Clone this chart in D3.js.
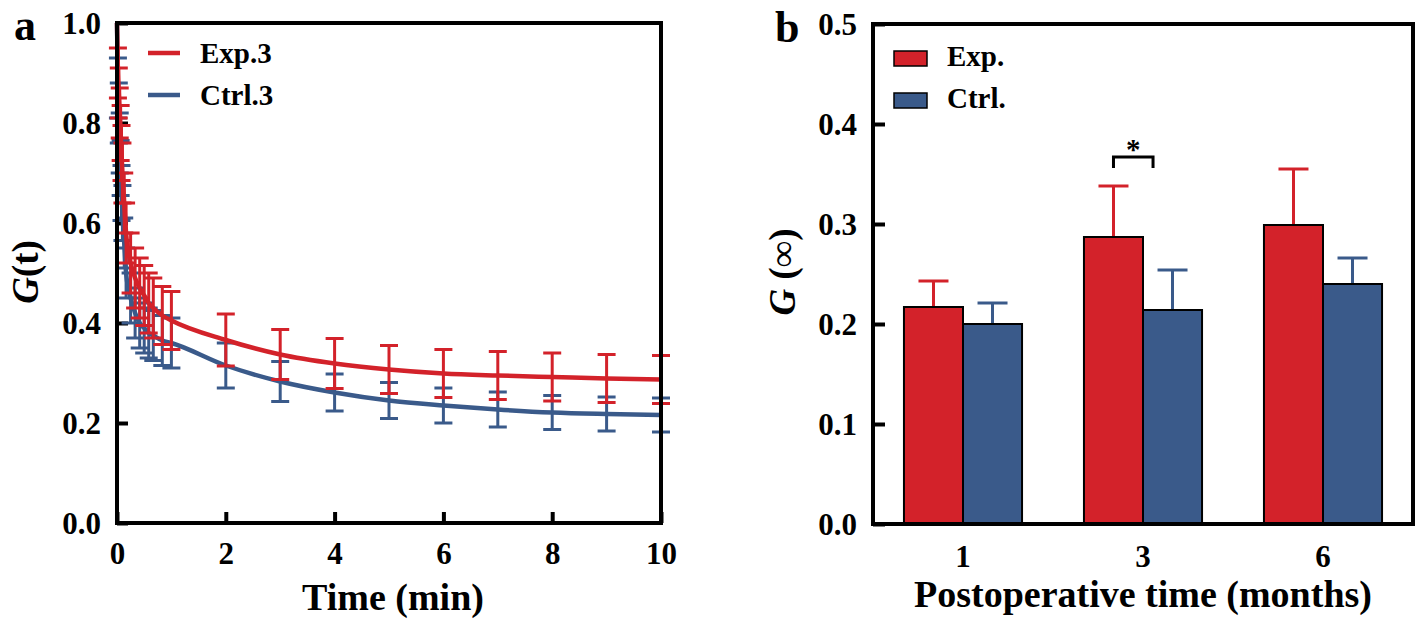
<!DOCTYPE html>
<html><head><meta charset="utf-8">
<script src="https://cdn.jsdelivr.net/npm/d3@7"></script>
<style>
html,body{margin:0;padding:0;background:#fff;}
text{font-family:"Liberation Serif","Times New Roman",serif;font-weight:bold;fill:#000;}
</style></head>
<body><svg id="c" width="1419" height="620"></svg>
<script>
// ---------- Panel a data ----------
const timeMin = [0, 0.017, 0.033, 0.05, 0.067, 0.083, 0.1, 0.133, 0.167, 0.25, 0.333, 0.417, 0.5, 0.583, 0.667, 0.833, 1, 2, 3, 4, 5, 6, 7, 8, 9, 10];
const expMean = [1.0, 0.90, 0.86, 0.82, 0.78, 0.74, 0.70, 0.64, 0.58, 0.52, 0.49, 0.47, 0.455, 0.44, 0.43, 0.415, 0.405, 0.366, 0.337, 0.319, 0.307, 0.299, 0.295, 0.292, 0.289, 0.287];
const expErr  = [0.0, 0.05, 0.05, 0.05, 0.055, 0.055, 0.06, 0.06, 0.06, 0.06, 0.06, 0.06, 0.06, 0.06, 0.06, 0.058, 0.058, 0.052, 0.050, 0.050, 0.048, 0.048, 0.048, 0.048, 0.048, 0.048];
const ctrlMean = [1.0, 0.87, 0.82, 0.76, 0.71, 0.66, 0.62, 0.56, 0.50, 0.45, 0.42, 0.40, 0.39, 0.38, 0.375, 0.365, 0.36, 0.315, 0.283, 0.261, 0.245, 0.235, 0.227, 0.221, 0.218, 0.216];
const ctrlErr  = [0.0, 0.06, 0.06, 0.06, 0.055, 0.055, 0.055, 0.05, 0.05, 0.05, 0.05, 0.05, 0.05, 0.05, 0.05, 0.05, 0.05, 0.045, 0.040, 0.037, 0.036, 0.035, 0.035, 0.034, 0.034, 0.034];
const xTicksA = [0, 2, 4, 6, 8, 10];
const yTicksA = [0.0, 0.2, 0.4, 0.6, 0.8, 1.0];
const seriesA = ["Exp.3", "Ctrl.3"];

// ---------- Panel b data ----------
const months = ["1", "3", "6"];
const seriesB = ["Exp.", "Ctrl."];
const expBar  = [0.217, 0.287, 0.299];
const expBarErr = [0.026, 0.051, 0.056];
const ctrlBar = [0.200, 0.214, 0.240];
const ctrlBarErr = [0.021, 0.040, 0.026];
const yTicksB = [0.0, 0.1, 0.2, 0.3, 0.4, 0.5];
const sigLabel = "*";

const RED = "#d3222a", BLUE = "#3a5a8a";
const svg = d3.select("#c");

// ================= Panel a =================
const A = {l:117, r:661, t:23, b:523};
const xa = d3.scaleLinear().domain([0,10]).range([A.l, A.r]);
const ya = d3.scaleLinear().domain([0,1]).range([A.b, A.t]);
const ga = svg.append("g");

const axB = ga.append("g").attr("transform",`translate(0,${A.b})`)
  .call(d3.axisBottom(xa).tickValues(xTicksA).tickSize(-11).tickPadding(19).tickFormat(d3.format("d")));
const axL = ga.append("g").attr("transform",`translate(${A.l},0)`)
  .call(d3.axisLeft(ya).tickValues(yTicksA).tickSize(-11).tickPadding(16).tickFormat(d3.format(".1f")));
[axB, axL].forEach(ax=>{
  ax.select(".domain").remove();
  ax.selectAll(".tick line").attr("stroke","#000").attr("stroke-width",4);
  ax.selectAll(".tick text").style("font-size","31px").attr("fill","#000");
});
axL.selectAll(".tick text").attr("dy","0.35em");
axB.selectAll(".tick text").attr("dy","0.71em");

function drawSeries(mean, err, color){
  const g = ga.append("g");
  const pts = timeMin.map((t,i)=>({t, m:mean[i], e:err[i]}));
  const eb = g.selectAll("g.eb").data(pts.filter(p=>p.e>0)).join("g");
  eb.append("line").attr("x1",d=>xa(d.t)).attr("x2",d=>xa(d.t))
    .attr("y1",d=>ya(d.m+d.e)).attr("y2",d=>ya(d.m-d.e))
    .attr("stroke",color).attr("stroke-width",3);
  [1,-1].forEach(s=>{
    eb.append("line").attr("x1",d=>xa(d.t)-9).attr("x2",d=>xa(d.t)+9)
      .attr("y1",d=>ya(d.m+s*d.e)).attr("y2",d=>ya(d.m+s*d.e))
      .attr("stroke",color).attr("stroke-width",3);
  });
  g.append("path").datum(pts)
    .attr("d", d3.line().x(d=>xa(d.t)).y(d=>ya(d.m)).curve(d3.curveMonotoneX))
    .attr("fill","none").attr("stroke",color).attr("stroke-width",4.5);
}
drawSeries(ctrlMean, ctrlErr, BLUE);
drawSeries(expMean, expErr, RED);

ga.append("rect").attr("x",A.l).attr("y",A.t).attr("width",A.r-A.l).attr("height",A.b-A.t)
  .attr("fill","none").attr("stroke","#000").attr("stroke-width",4);

seriesA.forEach((s,i)=>{
  const y = 53 + i*42;
  ga.append("line").attr("x1",148).attr("x2",180).attr("y1",y).attr("y2",y)
    .attr("stroke", i===0?RED:BLUE).attr("stroke-width",4.5);
  ga.append("text").attr("x",200).attr("y",y+10).style("font-size","29px").text(s);
});

ga.append("text").attr("x",393).attr("y",610).attr("text-anchor","middle")
  .style("font-size","38px").text("Time (min)");
const tyA = ga.append("text").attr("transform",`translate(38,272) rotate(-90)`)
  .attr("text-anchor","middle").style("font-size","37px");
tyA.append("tspan").style("font-style","italic").text("G");
tyA.append("tspan").text("(t)");
ga.append("text").attr("x",14).attr("y",40).style("font-size","44px").text("a");

// ================= Panel b =================
const B = {l:873, r:1413, t:24, b:524};
const x0 = d3.scaleBand().domain(months).range([B.l, B.r]).paddingInner(0.344).paddingOuter(0.172);
const x1 = d3.scaleBand().domain(seriesB).range([0, x0.bandwidth()]).padding(0);
const yb = d3.scaleLinear().domain([0,0.5]).range([B.b, B.t]);
const gb = svg.append("g");

const axLB = gb.append("g").attr("transform",`translate(${B.l},0)`)
  .call(d3.axisLeft(yb).tickValues(yTicksB).tickSize(-12).tickPadding(16).tickFormat(d3.format(".1f")));
const axBB = gb.append("g").attr("transform",`translate(0,${B.b})`)
  .call(d3.axisBottom(x0).tickSize(0).tickPadding(21));
[axLB, axBB].forEach(ax=>{
  ax.select(".domain").remove();
  ax.selectAll(".tick line").attr("stroke","#000").attr("stroke-width",4);
  ax.selectAll(".tick text").style("font-size","31px").attr("fill","#000");
});
axLB.selectAll(".tick text").attr("dy","0.35em");
axBB.selectAll(".tick text").attr("dy","0.71em");

const barData = months.map((m,i)=>[
  {m, s:seriesB[0], v:expBar[i], e:expBarErr[i], c:RED},
  {m, s:seriesB[1], v:ctrlBar[i], e:ctrlBarErr[i], c:BLUE}
]).flat();
const ebb = gb.selectAll("g.ebb").data(barData).join("g");
ebb.append("line").attr("x1",d=>x0(d.m)+x1(d.s)+x1.bandwidth()/2).attr("x2",d=>x0(d.m)+x1(d.s)+x1.bandwidth()/2)
  .attr("y1",d=>yb(d.v)).attr("y2",d=>yb(d.v+d.e)).attr("stroke",d=>d.c).attr("stroke-width",3);
ebb.append("line").attr("x1",d=>x0(d.m)+x1(d.s)+x1.bandwidth()/2-15).attr("x2",d=>x0(d.m)+x1(d.s)+x1.bandwidth()/2+15)
  .attr("y1",d=>yb(d.v+d.e)).attr("y2",d=>yb(d.v+d.e)).attr("stroke",d=>d.c).attr("stroke-width",3);
gb.selectAll("rect.bar").data(barData).join("rect")
  .attr("x",d=>x0(d.m)+x1(d.s)).attr("width",x1.bandwidth())
  .attr("y",d=>yb(d.v)).attr("height",d=>yb(0)-yb(d.v))
  .attr("fill",d=>d.c).attr("stroke","#000").attr("stroke-width",2);

const bx1 = x0("3")+x1(seriesB[0])+x1.bandwidth()/2;
const bx2 = x0("3")+x1(seriesB[1])+x1.bandwidth()*0.17;
const byTop = yb(0.367), byBot = yb(0.356);
gb.append("path").attr("d",`M${bx1},${byBot}V${byTop}H${bx2}V${byBot}`)
  .attr("fill","none").attr("stroke","#000").attr("stroke-width",3);
gb.append("text").attr("x",(bx1+bx2)/2).attr("y",byTop+2).attr("text-anchor","middle")
  .style("font-size","29px").text(sigLabel);

gb.append("rect").attr("x",B.l).attr("y",B.t).attr("width",B.r-B.l).attr("height",B.b-B.t)
  .attr("fill","none").attr("stroke","#000").attr("stroke-width",4);

seriesB.forEach((s,i)=>{
  const y = 51 + i*42;
  gb.append("rect").attr("x",894).attr("y",y).attr("width",33).attr("height",15)
    .attr("fill", i===0?RED:BLUE).attr("stroke","#000").attr("stroke-width",1.5);
  gb.append("text").attr("x",947).attr("y",y+15).style("font-size","29px").text(s);
});

gb.append("text").attr("x",(B.l+B.r)/2).attr("y",607).attr("text-anchor","middle")
  .style("font-size","38px").text("Postoperative time (months)");
const tyB = gb.append("text").attr("transform",`translate(795,272) rotate(-90)`)
  .attr("text-anchor","middle").style("font-size","37px");
tyB.append("tspan").style("font-style","italic").text("G");
tyB.append("tspan").text(" (∞)");
gb.append("text").attr("x",775).attr("y",42).style("font-size","44px").text("b");
</script></body></html>
